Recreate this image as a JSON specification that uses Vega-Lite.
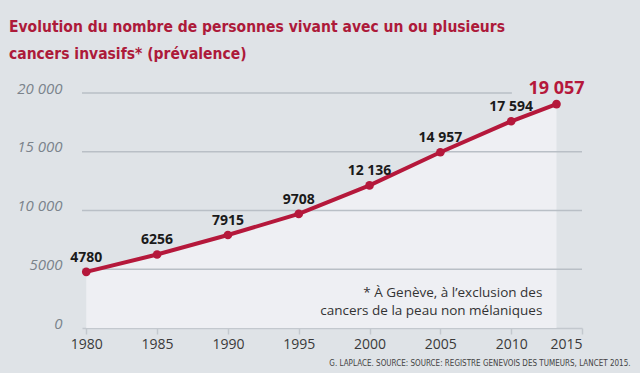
{
  "$schema": "https://vega.github.io/schema/vega-lite/v6.json",
  "width": 500,
  "height": 235,
  "autosize": {"type": "none"},
  "padding": {"left": 82, "top": 93, "right": 58, "bottom": 45},
  "background": "#dfe3e7",
  "config": {"view": {"stroke": null}, "font": "Open Sans"},
  "title": {
    "text": ["Evolution du nombre de personnes vivant avec un ou plusieurs", "cancers invasifs* (prévalence)"],
    "anchor": "start",
    "frame": "group",
    "dx": -73,
    "dy": -6,
    "font": "DejaVu Sans Condensed, Roboto",
    "fontSize": 15.5,
    "fontWeight": "bold",
    "color": "#ad1a3a",
    "lineHeight": 27,
    "baseline": "alphabetic",
    "offset": 0
  },
  "datasets": {
    "prev": [
      {"year": 1980, "value": 4780, "label": "4780"},
      {"year": 1985, "value": 6256, "label": "6256"},
      {"year": 1990, "value": 7915, "label": "7915"},
      {"year": 1995, "value": 9708, "label": "9708"},
      {"year": 2000, "value": 12136, "label": "12 136"},
      {"year": 2005, "value": 14957, "label": "14 957"},
      {"year": 2010, "value": 17594, "label": "17 594"},
      {"year": 2013.2, "value": 19057, "label": "19 057"}
    ],
    "grid": [
      {"value": 5000, "start": 1979.7, "end": 2015},
      {"value": 10000, "start": 1979.7, "end": 2015},
      {"value": 15000, "start": 1979.7, "end": 2015},
      {"value": 20000, "start": 1979.7, "end": 2010.05}
    ]
  },
  "layer": [
    {
      "data": {"name": "prev"},
      "mark": {"type": "area", "color": "#eeeff3", "opacity": 1},
      "encoding": {
        "x": {
          "field": "year", "type": "quantitative",
          "scale": {"domain": [1979.7, 2015], "nice": false, "zero": false},
          "axis": {
            "values": [1980, 1985, 1990, 1995, 2000, 2005, 2010, 2015],
            "format": "d",
            "grid": false,
            "domainColor": "#c3c8ce",
            "domainWidth": 1.5,
            "tickColor": "#c3c8ce",
            "tickWidth": 1.5,
            "tickSize": 6,
            "labelPadding": 3,
            "labelFontSize": 14,
            "labelColor": "#3a3a3a",
            "labelFont": "Open Sans",
            "title": "G. LAPLACE. SOURCE: SOURCE: REGISTRE GENEVOIS DES TUMEURS, LANCET 2015.",
            "titleFont": "Liberation Sans Narrow, DejaVu Sans Condensed",
            "titleFontSize": 8,
            "titleFontWeight": "normal",
            "titleColor": "#444444",
            "titleAnchor": "end",
            "titleAlign": "right",
            "titleBaseline": "alphabetic",
            "titleX": 548,
            "titleY": 37
          }
        },
        "y": {
          "field": "value", "type": "quantitative",
          "scale": {"domain": [0, 20000], "nice": false},
          "axis": {
            "values": [0, 5000, 10000, 15000, 20000],
            "labelExpr": "datum.value >= 10000 ? replace(format(datum.value, ','), ',', ' ') : format(datum.value, 'd')",
            "grid": false,
            "domain": false,
            "ticks": false,
            "labelPadding": 20,
            "labelBaseline": "alphabetic",
            "labelFontSize": 15,
            "labelFontStyle": "italic",
            "labelColor": "#7b838c",
            "labelFont": "Open Sans",
            "title": null
          }
        }
      }
    },
    {
      "data": {"name": "grid"},
      "mark": {"type": "rule", "color": "#b9bfc6", "strokeWidth": 1.5},
      "encoding": {
        "x": {"field": "start", "type": "quantitative"},
        "x2": {"field": "end"},
        "y": {"field": "value", "type": "quantitative"}
      }
    },
    {
      "data": {"name": "prev"},
      "mark": {"type": "line", "color": "#b5183b", "strokeWidth": 4, "point": {"filled": true, "size": 75, "color": "#b5183b", "opacity": 1}},
      "encoding": {
        "x": {"field": "year", "type": "quantitative"},
        "y": {"field": "value", "type": "quantitative"}
      }
    },
    {
      "data": {"name": "prev"},
      "mark": {"type": "text", "fontWeight": "bold", "baseline": "alphabetic", "dy": -10, "font": "Open Sans"},
      "encoding": {
        "x": {"field": "year", "type": "quantitative"},
        "y": {"field": "value", "type": "quantitative"},
        "text": {"field": "label"},
        "color": {"condition": {"test": "datum.year > 2012", "value": "#b5183b"}, "value": "#1a1a1a"},
        "size": {"condition": {"test": "datum.year > 2012", "value": 18}, "value": 14}
      }
    },
    {
      "data": {"values": [{"x": 2012.2, "y": 2640}]},
      "mark": {"type": "text", "text": ["* À Genève, à l’exclusion des", "cancers de la peau non mélaniques"], "align": "right", "baseline": "alphabetic", "fontSize": 13.5, "lineHeight": 18, "color": "#333333", "font": "Open Sans"},
      "encoding": {
        "x": {"field": "x", "type": "quantitative"},
        "y": {"field": "y", "type": "quantitative"}
      }
    }
  ]
}
